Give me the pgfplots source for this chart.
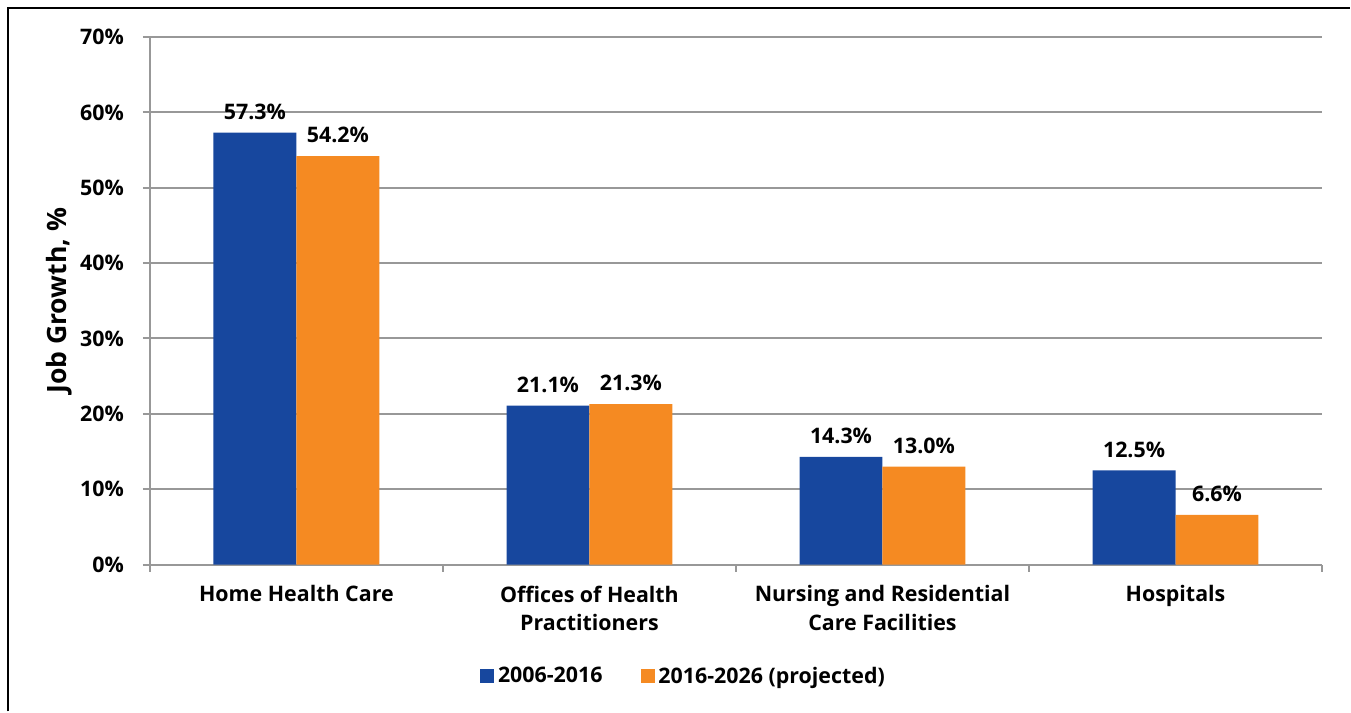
\documentclass[border=0pt]{standalone}
\usepackage{pgfplots}
\pgfplotsset{compat=1.18}
\usepackage{fontspec}
\setmainfont{Open Sans}
\definecolor{barblue}{RGB}{23,71,158}
\definecolor{barorange}{RGB}{245,138,34}
\definecolor{gridgray}{RGB}{152,152,152}
\begin{document}
\begin{tikzpicture}
\begin{axis}[
  at={(0,0)}, anchor=south west,
  scale only axis,
  width=586.5pt, height=264pt,
  ybar=0pt, bar width=41.5pt,
  xmin=-0.5, xmax=3.5,
  ymin=0, ymax=70,
  axis x line*=bottom, axis y line*=left,
  axis line style={gridgray, line width=1pt, -},
  ytick={0,10,...,70},
  yticklabels={0\%,10\%,20\%,30\%,40\%,50\%,60\%,70\%},
  xtick={0,1,2,3},
  xticklabels={Home Health Care,Offices of Health\\Practitioners,Nursing and Residential\\Care Facilities,Hospitals},
  minor xtick={-0.5,0.5,1.5,2.5,3.5},
  tick align=outside,
  major tick length=3.5pt, minor tick length=3.5pt,
  xtick style={draw=none},
  minor x tick style={draw=gridgray, line width=1pt},
  ytick style={draw=gridgray, line width=1pt},
  ymajorgrids=true,
  grid style={gridgray, line width=1pt},
  tick label style={font=\fontsize{10.7}{14.5}\selectfont\bfseries},
  xticklabel style={align=center, yshift=-3.5pt},
  yticklabel style={xshift=-6pt},
  ylabel={Job Growth, \%},
  ylabel style={font=\fontsize{13.3}{15}\selectfont\bfseries, yshift=-3pt},
  point meta=explicit symbolic,
  nodes near coords,
  nodes near coords style={font=\fontsize{10.7}{12}\selectfont\bfseries, anchor=south, yshift=3pt},
  legend style={at={(0.456,-0.212)}, anchor=center, draw=none, fill=none,
    legend columns=2, font=\fontsize{10.7}{12}\selectfont\bfseries,
    /tikz/every even column/.append style={column sep=17pt}},
  legend image code/.code={\fill[#1,draw=none] (0pt,-3.5pt) rectangle (7pt,3.5pt);},
]
\addplot[fill=barblue, draw=none] coordinates {
  (0,57.3) [57.3\%]
  (1,21.1) [21.1\%]
  (2,14.3) [14.3\%]
  (3,12.5) [12.5\%]
};
\addplot[fill=barorange, draw=none] coordinates {
  (0,54.2) [54.2\%]
  (1,21.3) [21.3\%]
  (2,13.0) [13.0\%]
  (3,6.6) [6.6\%]
};
\legend{2006-2016,2016-2026 (projected)}
\end{axis}
\draw[line width=1pt] (-71pt,-73.5pt) -- (-71pt,278.5pt) -- (600.5pt,278.5pt);
\useasboundingbox (-75pt,-73.5pt) rectangle (600.5pt,282.5pt);
\end{tikzpicture}
\end{document}
